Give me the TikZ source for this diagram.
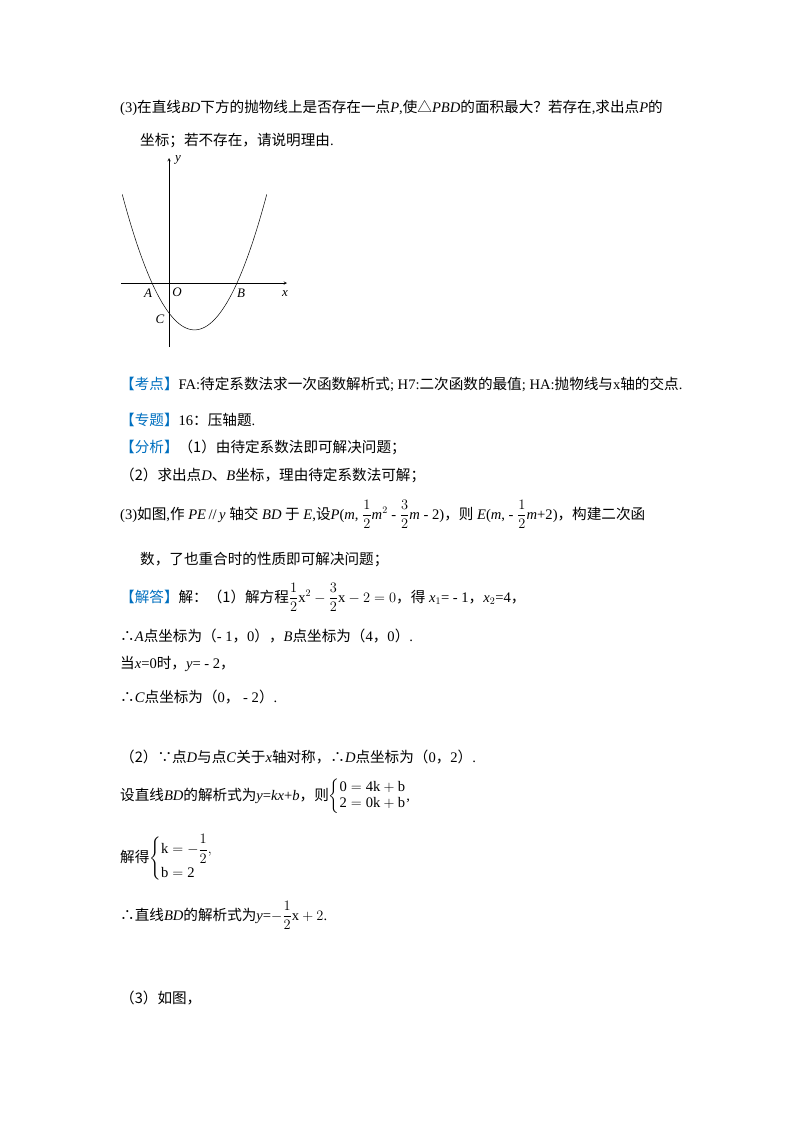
\documentclass[tikz,border=0pt]{standalone}
\usepackage{amsmath}
\usepackage{fontspec}
\setmainfont{Liberation Serif}
\newfontfamily\cjk{Noto Sans CJK SC}
\newfontfamily\djv{DejaVu Sans}
\definecolor{kb}{RGB}{0,112,192}
\newcommand{\zh}[1]{{\cjk #1}}
\newcommand{\iv}[1]{\textit{#1}}
\newcommand{\sym}[1]{{\djv #1}}
\begin{document}
\begin{tikzpicture}[x=1pt,y=-1pt,
 txt/.style={anchor=base west,inner sep=0pt,font=\fontsize{14.6}{16}\selectfont},
 lab/.style={inner sep=0pt,font=\fontsize{13}{15}\selectfont\itshape}]
\useasboundingbox (0,0) rectangle (800,1132);
\fill[white] (0,0) rectangle (800,1132);
% graph
\coordinate (xa) at (121,283); \coordinate (xb) at (287,283);
\coordinate (ya) at (169,347); \coordinate (yb) at (169,158);
\draw[->,>=stealth,line width=0.5pt] (xa) -- (xb);
\draw[->,>=stealth,line width=0.5pt] (ya) -- (yb);
\draw[line width=0.5pt,domain=-2.75:5.75,samples=80] plot ({169+17*\x},{283-15*(0.5*\x*\x-1.5*\x-2)});
\node[lab] (A) at (148,293) {A};
\node[lab] (O) at (177,292) {O};
\node[lab] (B) at (241,293) {B};
\node[lab] (X) at (285,294) {x};
\node[lab] (Y) at (178,160) {y};
\node[lab] (C) at (160,319) {C};
% text
\node[txt] (l1) at (120,112) {(3)\zh{在直线}\iv{BD}\zh{下方的抛物线上是否存在一点}\iv{P},\zh{使△}\iv{PBD}\zh{的面积最大？若存在},\zh{求出点}\iv{P}\zh{的}};
\node[txt] (l2) at (140,145) {\zh{坐标；若不存在，请说明理由}.};
\node[txt] (l3) at (120,389) {\textcolor{kb}{\zh{【考点】}}FA:\zh{待定系数法求一次函数解析式}; H7:\zh{二次函数的最值}; HA:\zh{抛物线与}x\zh{轴的交点}.};
\node[txt] (l4) at (120,425) {\textcolor{kb}{\zh{【专题】}}16\zh{：压轴题}.};
\node[txt] (l5) at (120,452) {\textcolor{kb}{\zh{【分析】}}\zh{（1）由待定系数法即可解决问题；}};
\node[txt] (l6) at (120,480) {\zh{（2）求出点}\iv{D}\zh{、}\iv{B}\zh{坐标，理由待定系数法可解；}};
\node[txt] (l7) at (120,519) {(3)\zh{如图},\zh{作} \iv{PE}\,//\,\iv{y} \zh{轴交} \iv{BD} \zh{于} \iv{E},\zh{设}\iv{P}(\iv{m}, $\dfrac{1}{2}$\iv{m}$^2$ - $\dfrac{3}{2}$\iv{m} - 2)\zh{，则} \iv{E}(\iv{m}, - $\dfrac{1}{2}$\iv{m}+2)\zh{，构建二次函}};
\node[txt] (l8) at (140,564) {\zh{数，了也重合时的性质即可解决问题；}};
\node[txt] (l9) at (120,602) {\textcolor{kb}{\zh{【解答】}}\zh{解：（1）解方程}$\dfrac{1}{2}\mathrm{x}^2-\dfrac{3}{2}\mathrm{x}-2=0$\zh{，得} \iv{x}$_1$= - 1\zh{，}\iv{x}$_2$=4\zh{，}};
\node[txt] (l10) at (120,641) {\zh{∴}\iv{A}\zh{点坐标为（}- 1\zh{，}0\zh{），}\iv{B}\zh{点坐标为（}4\zh{，}0\zh{）}.};
\node[txt] (l11) at (120,668) {\zh{当}\iv{x}=0\zh{时，}\iv{y}= - 2\zh{，}};
\node[txt] (l12) at (120,702) {\zh{∴}\iv{C}\zh{点坐标为（}0\zh{，} - 2\zh{）}.};
\node[txt] (l13) at (120,762) {\zh{（2）∵点}\iv{D}\zh{与点}\iv{C}\zh{关于}\iv{x}\zh{轴对称，∴}\iv{D}\zh{点坐标为（}0\zh{，}2\zh{）}.};
\node[txt] (l14) at (120,800) {\zh{设直线}\iv{BD}\zh{的解析式为}\iv{y}=\iv{kx}+\iv{b}\zh{，则}$\left\{\begin{array}{@{}l@{}}\mathrm{0=4k+b}\\ \mathrm{2=0k+b}\end{array}\right.$,};
\node[txt] (l15) at (120,862) {\zh{解得}$\left\{\begin{array}{@{}l@{}}\mathrm{k}=-\dfrac{1}{2},\\[8pt] \mathrm{b=2}\end{array}\right.$};
\node[txt] (l16) at (120,920) {\zh{∴直线}\iv{BD}\zh{的解析式为}\iv{y}=$-\dfrac{1}{2}\mathrm{x}+2$.};
\node[txt] (l17) at (120,1003) {\zh{（3）如图，}};
\end{tikzpicture}
\end{document}
